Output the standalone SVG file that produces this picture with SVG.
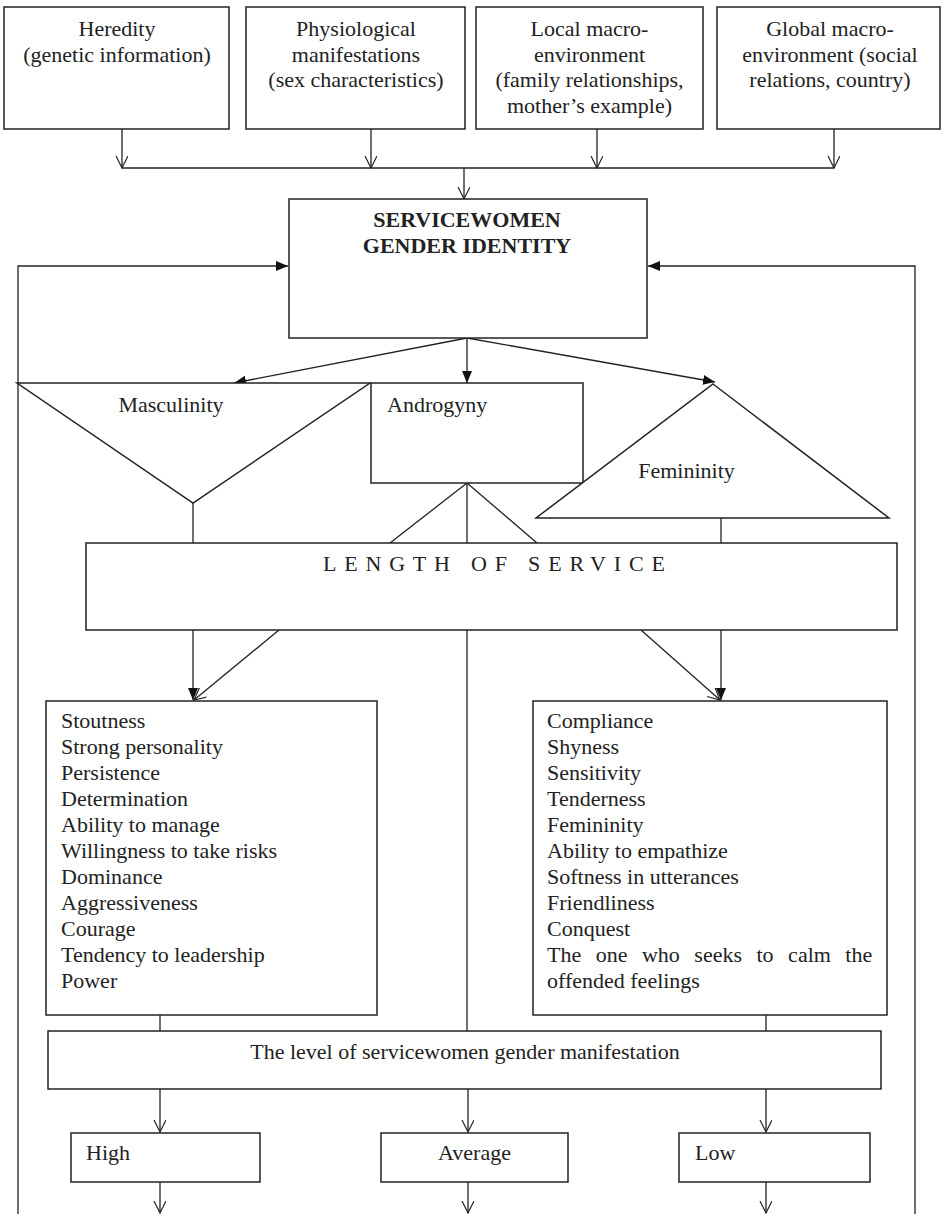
<svg xmlns="http://www.w3.org/2000/svg" width="942" height="1214" viewBox="0 0 942 1214">
<style>
.box{fill:#fff;stroke:#222;stroke-width:1.5}
.ln{fill:none;stroke:#222;stroke-width:1.3}
text{font-family:"Liberation Serif","Times New Roman",serif;font-size:22px;fill:#222}
.c{text-anchor:middle}
.b{font-weight:bold}
</style>
<defs>
<marker id="fa" markerUnits="userSpaceOnUse" markerWidth="14" markerHeight="12" refX="12" refY="5" orient="auto">
<path d="M0,0 L12,5 L0,10 Z" fill="#111"/>
</marker>
<marker id="oa" markerUnits="userSpaceOnUse" markerWidth="14" markerHeight="14" refX="12" refY="6" orient="auto">
<path d="M0,0 L12,6 L0,12" fill="none" stroke="#222" stroke-width="1.2"/>
</marker>
</defs>
<rect width="942" height="1214" fill="#fff"/>

<g id="connectors">
<line class="ln" x1="122" y1="129" x2="122" y2="168" marker-end="url(#oa)"/>
<line class="ln" x1="371" y1="129" x2="371" y2="168" marker-end="url(#oa)"/>
<line class="ln" x1="597" y1="129" x2="597" y2="168" marker-end="url(#oa)"/>
<line class="ln" x1="834" y1="129" x2="834" y2="168" marker-end="url(#oa)"/>
<line class="ln" x1="122" y1="168" x2="834" y2="168" stroke-width="1.8"/>
<line class="ln" x1="464" y1="168" x2="464" y2="199" marker-end="url(#oa)"/>
<polyline class="ln" points="18,1214 18,266 288,266" stroke-width="1.8" marker-end="url(#fa)"/>
<polyline class="ln" points="915,1214 915,266 648,266" stroke-width="1.8" marker-end="url(#fa)"/>
<line class="ln" x1="467" y1="338" x2="234" y2="383" stroke-width="1.6" marker-end="url(#fa)"/>
<line class="ln" x1="467" y1="338" x2="467" y2="383" stroke-width="1.6" marker-end="url(#fa)"/>
<line class="ln" x1="467" y1="338" x2="715" y2="382" stroke-width="1.6" marker-end="url(#fa)"/>
<line class="ln" x1="193" y1="503" x2="193" y2="543"/>
<line class="ln" x1="467" y1="483" x2="390" y2="543" stroke-width="1.6"/>
<line class="ln" x1="467" y1="483" x2="467" y2="543"/>
<line class="ln" x1="467" y1="483" x2="537" y2="543" stroke-width="1.6"/>
<line class="ln" x1="721" y1="518" x2="721" y2="543"/>
<line class="ln" x1="193" y1="630" x2="193" y2="700" marker-end="url(#fa)"/>
<line class="ln" x1="279" y1="630" x2="194" y2="700" stroke-width="1.6" marker-end="url(#oa)"/>
<line class="ln" x1="467" y1="630" x2="467" y2="1031"/>
<line class="ln" x1="721" y1="630" x2="721" y2="700" marker-end="url(#fa)"/>
<line class="ln" x1="641" y1="630" x2="720" y2="700" stroke-width="1.6" marker-end="url(#oa)"/>
<line class="ln" x1="160" y1="1015" x2="160" y2="1031"/>
<line class="ln" x1="766" y1="1015" x2="766" y2="1031"/>
<line class="ln" x1="160" y1="1089" x2="160" y2="1132" marker-end="url(#oa)"/>
<line class="ln" x1="468" y1="1089" x2="468" y2="1132" marker-end="url(#oa)"/>
<line class="ln" x1="766" y1="1089" x2="766" y2="1132" marker-end="url(#oa)"/>
<line class="ln" x1="160" y1="1182" x2="160" y2="1213" marker-end="url(#oa)"/>
<line class="ln" x1="468" y1="1182" x2="468" y2="1213" marker-end="url(#oa)"/>
<line class="ln" x1="766" y1="1182" x2="766" y2="1213" marker-end="url(#oa)"/>
</g>

<g id="heredity">
<rect class="box" x="4" y="7" width="225" height="122"/>
<text class="c" x="117" y="36">Heredity</text>
<text class="c" x="117" y="61.5">(genetic information)</text>
</g>
<g id="physiological">
<rect class="box" x="246" y="7" width="219" height="122"/>
<text class="c" x="356" y="36">Physiological</text>
<text class="c" x="356" y="61.5">manifestations</text>
<text class="c" x="356" y="87">(sex characteristics)</text>
</g>
<g id="local">
<rect class="box" x="476" y="7" width="227" height="122"/>
<text class="c" x="589.5" y="36">Local macro-</text>
<text class="c" x="589.5" y="61.5">environment</text>
<text class="c" x="589.5" y="87">(family relationships,</text>
<text class="c" x="589.5" y="112.5">mother’s example)</text>
</g>
<g id="global">
<rect class="box" x="717" y="7" width="223" height="122"/>
<text class="c" x="830" y="36">Global macro-</text>
<text class="c" x="830" y="61.5">environment (social</text>
<text class="c" x="830" y="87">relations, country)</text>
</g>

<g id="identity">
<rect class="box" x="289" y="199" width="358" height="139"/>
<text class="c b" x="467" y="227">SERVICEWOMEN</text>
<text class="c b" x="467" y="253">GENDER IDENTITY</text>
</g>

<g id="masculinity">
<polygon class="box" points="17,383 370,383 193,503" stroke-width="1.3"/>
<text class="c" x="171" y="412">Masculinity</text>
</g>
<g id="androgyny">
<rect class="box" x="371" y="383" width="212" height="100"/>
<text x="387" y="412">Androgyny</text>
</g>
<g id="femininity">
<polygon class="box" points="713,384 889,518 536,518" stroke-width="1.3"/>
<text class="c" x="686.5" y="478">Femininity</text>
</g>

<g id="length">
<rect class="box" x="86" y="543" width="811" height="87"/>
<text x="323" y="571" letter-spacing="7.8">LENGTH OF SERVICE</text>
</g>

<g id="masc-traits">
<rect class="box" x="46" y="701" width="331" height="314"/>
<text x="61" y="728">Stoutness</text>
<text x="61" y="754">Strong personality</text>
<text x="61" y="780">Persistence</text>
<text x="61" y="806">Determination</text>
<text x="61" y="832">Ability to manage</text>
<text x="61" y="858">Willingness to take risks</text>
<text x="61" y="884">Dominance</text>
<text x="61" y="910">Aggressiveness</text>
<text x="61" y="936">Courage</text>
<text x="61" y="962">Tendency to leadership</text>
<text x="61" y="988">Power</text>
</g>
<g id="fem-traits">
<rect class="box" x="533" y="701" width="354" height="314"/>
<text x="547" y="728">Compliance</text>
<text x="547" y="754">Shyness</text>
<text x="547" y="780">Sensitivity</text>
<text x="547" y="806">Tenderness</text>
<text x="547" y="832">Femininity</text>
<text x="547" y="858">Ability to empathize</text>
<text x="547" y="884">Softness in utterances</text>
<text x="547" y="910">Friendliness</text>
<text x="547" y="936">Conquest</text>
<text x="547" y="962" word-spacing="9">The one who seeks to calm the</text>
<text x="547" y="988">offended feelings</text>
</g>

<g id="level">
<rect class="box" x="48" y="1031" width="833" height="58"/>
<text class="c" x="465" y="1059">The level of servicewomen gender manifestation</text>
</g>
<g id="high">
<rect class="box" x="71" y="1133" width="189" height="49"/>
<text x="86" y="1160">High</text>
</g>
<g id="average">
<rect class="box" x="381" y="1133" width="187" height="49"/>
<text class="c" x="474.5" y="1160">Average</text>
</g>
<g id="low">
<rect class="box" x="679" y="1133" width="191" height="49"/>
<text x="695" y="1160">Low</text>
</g>
</svg>
